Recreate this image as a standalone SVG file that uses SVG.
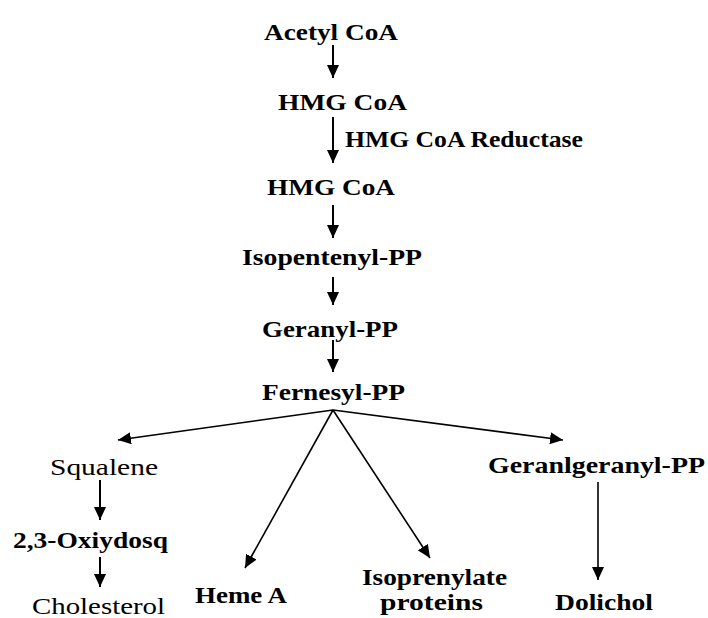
<svg xmlns="http://www.w3.org/2000/svg" width="708" height="618" viewBox="0 0 708 618">
<defs>
<marker id="ah" markerUnits="userSpaceOnUse" markerWidth="14" markerHeight="12" refX="13" refY="6" orient="auto">
<path d="M0,0 L13,6 L0,12 z" fill="#000"/>
</marker>
<style>
text{font-family:"Liberation Serif","Times New Roman",serif;font-size:24px;font-weight:bold;fill:#000}
text.n{font-weight:normal}
.c line{stroke:#000;stroke-width:2;marker-end:url(#ah)}
.c line.d{stroke-width:1.6}
</style>
</defs>
<rect width="708" height="618" fill="#fff"/>
<g id="acetyl"><text x="264" y="40" textLength="134" lengthAdjust="spacingAndGlyphs">Acetyl CoA</text></g>
<g id="hmg1"><text x="278" y="110" textLength="129" lengthAdjust="spacingAndGlyphs">HMG CoA</text></g>
<g id="reductase"><text x="345" y="147" textLength="238" lengthAdjust="spacingAndGlyphs">HMG CoA Reductase</text></g>
<g id="hmg2"><text x="267" y="195" textLength="128" lengthAdjust="spacingAndGlyphs">HMG CoA</text></g>
<g id="isopentenyl"><text x="242" y="265" textLength="180" lengthAdjust="spacingAndGlyphs">Isopentenyl-PP</text></g>
<g id="geranyl"><text x="262" y="337" textLength="136" lengthAdjust="spacingAndGlyphs">Geranyl-PP</text></g>
<g id="fernesyl"><text x="262" y="400" textLength="143" lengthAdjust="spacingAndGlyphs">Fernesyl-PP</text></g>
<g id="squalene"><text class="n" x="50" y="475" textLength="108" lengthAdjust="spacingAndGlyphs">Squalene</text></g>
<g id="oxi"><text x="13" y="548" textLength="155" lengthAdjust="spacingAndGlyphs">2,3-Oxiydosq</text></g>
<g id="cholesterol"><text class="n" x="32" y="614" textLength="133" lengthAdjust="spacingAndGlyphs">Cholesterol</text></g>
<g id="heme"><text x="195" y="603" textLength="92" lengthAdjust="spacingAndGlyphs">Heme A</text></g>
<g id="isoprenylate"><text x="362" y="585" textLength="145" lengthAdjust="spacingAndGlyphs">Isoprenylate</text><text x="380" y="610" textLength="103" lengthAdjust="spacingAndGlyphs">proteins</text></g>
<g id="geranylgeranyl"><text x="488" y="473" textLength="217" lengthAdjust="spacingAndGlyphs">Geranlgeranyl-PP</text></g>
<g id="dolichol"><text x="555" y="610" textLength="98" lengthAdjust="spacingAndGlyphs">Dolichol</text></g>
<g id="connectors" class="c">
<line x1="333" y1="45" x2="333" y2="78"/>
<line x1="333" y1="117" x2="333" y2="163"/>
<line x1="333" y1="205" x2="333" y2="238"/>
<line x1="333" y1="277" x2="333" y2="305"/>
<line x1="333" y1="340" x2="333" y2="372"/>
<line class="d" x1="333" y1="410" x2="118" y2="440"/>
<line class="d" x1="333" y1="410" x2="563" y2="440"/>
<line class="d" x1="333" y1="410" x2="245" y2="568"/>
<line class="d" x1="333" y1="410" x2="430" y2="558"/>
<line x1="100" y1="480" x2="100" y2="520"/>
<line x1="100" y1="557" x2="100" y2="587"/>
<line class="d" x1="598" y1="482" x2="598" y2="580"/>
</g>
</svg>
